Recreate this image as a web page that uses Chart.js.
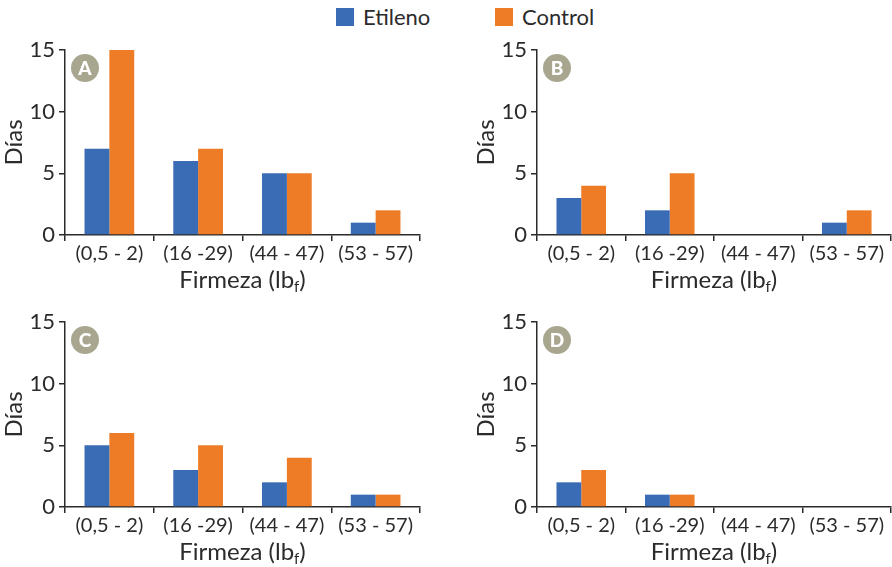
<!DOCTYPE html>
<html>
<head>
<meta charset="utf-8">
<script src="https://cdn.jsdelivr.net/npm/chart.js@4"></script>
<style>
    body { margin: 0; background: #fff; width: 892px; height: 567px; position: relative; overflow: hidden; font-family: Lato, sans-serif; }
    canvas { position: absolute; }
    .key { position: absolute; top: 3px; font-size: 22px; color: #2b2b2b; display: flex; align-items: center; }
    .key span { display: inline-block; width: 18px; height: 18px; margin-right: 9px; }
</style>
</head>
<body>
<div class="key" style="left:336px"><span style="background:#3a6cb5"></span>Etileno</div>
<div class="key" style="left:495px"><span style="background:#ee7b25"></span>Control</div>
<canvas id="chartA" width="430" height="265" style="left:0;top:30px"></canvas>
<canvas id="chartB" width="420" height="265" style="left:472px;top:30px"></canvas>
<canvas id="chartC" width="430" height="265" style="left:0;top:302px"></canvas>
<canvas id="chartD" width="420" height="265" style="left:472px;top:302px"></canvas>
<script>
const categories = ['(0,5 - 2)', '(16 -29)', '(44 - 47)', '(53 - 57)'];
const yTicks = [0, 5, 10, 15];

const etilenoA = [7, 6, 5, 1];
const controlA = [15, 7, 5, 2];
const etilenoB = [3, 2, 0, 1];
const controlB = [4, 5, 0, 2];
const etilenoC = [5, 3, 2, 1];
const controlC = [6, 5, 4, 1];
const etilenoD = [2, 1, 0, 0];
const controlD = [3, 1, 0, 0];

const BLUE = '#3a6cb5';
const ORANGE = '#ee7b25';
const INK = '#2b2b2b';
const FONT = 'Lato, sans-serif';

// grey circle with the panel letter, plus the x title with its subscript
const panelDecor = {
    id: 'panelDecor',
    afterDraw(chart, args, opts) {
        const ctx = chart.ctx;
        const area = chart.chartArea;
        ctx.save();
        ctx.beginPath();
        ctx.arc(area.left + 20, area.top + 18, 14, 0, Math.PI * 2);
        ctx.fillStyle = '#a9a690';
        ctx.fill();
        ctx.fillStyle = '#fff';
        ctx.font = '900 19px ' + FONT;
        ctx.textAlign = 'center';
        ctx.textBaseline = 'middle';
        ctx.fillText(opts.letter, area.left + 20, area.top + 19);

        // "Firmeza (lbf)" with the f lowered
        const main = 'Firmeza (lb';
        const big = '24px ' + FONT;
        const small = '15px ' + FONT;
        ctx.font = big;
        const w1 = ctx.measureText(main).width;
        const w3 = ctx.measureText(')').width;
        ctx.font = small;
        const w2 = ctx.measureText('f').width;
        let x = (area.left + area.right) / 2 - (w1 + w2 + w3) / 2;
        const y = area.bottom + 53;
        ctx.fillStyle = INK;
        ctx.textAlign = 'left';
        ctx.textBaseline = 'alphabetic';
        ctx.font = big;
        ctx.fillText(main, x, y);
        x += w1;
        ctx.font = small;
        ctx.fillText('f', x, y + 4);
        x += w2;
        ctx.font = big;
        ctx.fillText(')', x, y);
        ctx.restore();
    }
};

function generateChart(id, letter, etileno, control, padRight) {
    const canvas = document.getElementById(id);
    return new Chart(canvas, {
        type: 'bar',
        data: {
            labels: categories,
            datasets: [{
                label: 'Etileno',
                data: etileno,
                backgroundColor: BLUE,
                barPercentage: 1,
                categoryPercentage: 0.56
            }, {
                label: 'Control',
                data: control,
                backgroundColor: ORANGE,
                barPercentage: 1,
                categoryPercentage: 0.56
            }]
        },
        options: {
            responsive: false,
            animation: false,
            layout: { padding: { top: 20, right: padRight, left: 0, bottom: 0 } },
            plugins: {
                legend: { display: false },
                tooltip: { enabled: false },
                panelDecor: { letter: letter }
            },
            scales: {
                x: {
                    grid: { display: true, offset: true, drawOnChartArea: false, drawTicks: true, tickLength: 6, color: INK, lineWidth: 1.5 },
                    border: { display: true, color: INK, width: 1.5 },
                    ticks: { color: INK, font: { family: FONT, size: 20 }, padding: 1, maxRotation: 0, autoSkip: false },
                    afterFit: (scale) => { scale.height = 60; }
                },
                y: {
                    min: 0,
                    max: 15,
                    afterBuildTicks: (scale) => { scale.ticks = yTicks.map(v => ({ value: v })); },
                    grid: { display: true, drawOnChartArea: false, drawTicks: true, tickLength: 6, color: INK, lineWidth: 1.5 },
                    border: { display: true, color: INK, width: 1.5 },
                    ticks: { color: INK, font: { family: FONT, size: 22 }, padding: 4 },
                    title: { display: true, text: 'Días', color: INK, font: { family: FONT, size: 24 }, padding: { top: 0, bottom: 0 } },
                    afterFit: (scale) => { scale.width = 65; }
                }
            }
        },
        plugins: [panelDecor]
    });
}

generateChart('chartA', 'A', etilenoA, controlA, 10);
generateChart('chartB', 'B', etilenoB, controlB, 1);
generateChart('chartC', 'C', etilenoC, controlC, 10);
generateChart('chartD', 'D', etilenoD, controlD, 1);
</script>
</body>
</html>
